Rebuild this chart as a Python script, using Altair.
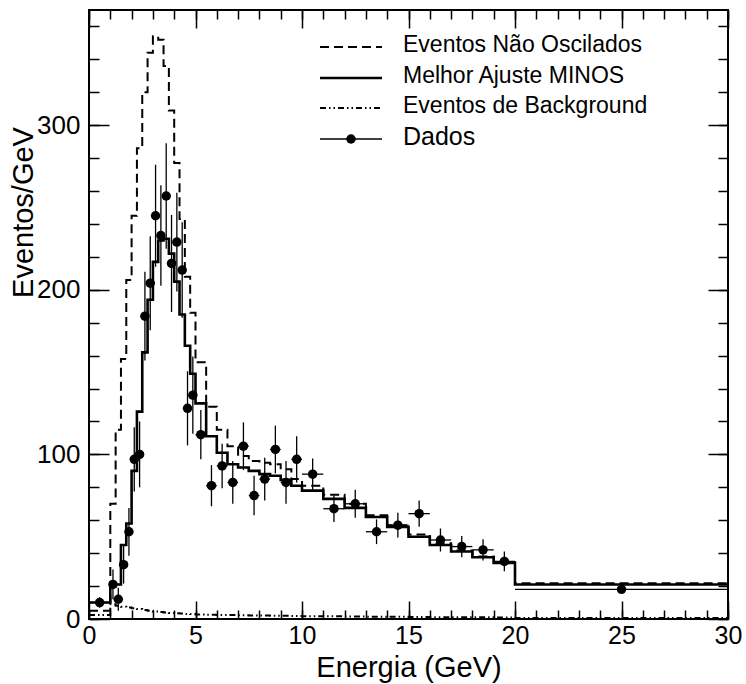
import altair as alt
import pandas as pd

# ---------------- data ----------------
edges = [0, 1, 1.25, 1.5, 1.75, 2, 2.25, 2.5, 2.75, 3, 3.25, 3.5, 3.75, 4, 4.25,
         4.5, 4.75, 5, 5.5, 6, 6.5, 7, 7.5, 8, 8.5, 9, 9.5, 10, 11, 12, 13, 14,
         15, 16, 17, 18, 19, 20, 30]

unosc = [5, 70, 115, 158, 206, 245, 286, 320, 344, 354, 352, 336, 309, 277, 243,
         208, 186, 156, 129, 115, 105, 99, 96, 95, 94, 91, 85, 81, 75.5, 70, 63,
         57, 51.4, 46, 41.6, 38, 34.5, 21.7]

bestfit = [10, 20, 21, 45, 58, 90, 126, 162, 194, 217, 230, 231, 222, 205, 185,
           166, 149, 131, 111, 101, 94, 92, 90, 88, 87, 84.5, 81, 78, 73, 67.5,
           62, 56, 50, 45, 41, 37.5, 34, 21]

background = [2.5, 9, 8, 7.5, 7, 6.5, 6, 5.5, 5, 4.6, 4.2, 4, 3.7, 3.5, 3.3, 3.1,
              3.0, 2.8, 2.6, 2.5, 2.4, 2.3, 2.2, 2.1, 2.0, 1.9, 1.8, 1.7, 1.6, 1.5,
              1.4, 1.3, 1.2, 1.1, 1.0, 1.0, 0.9, 0.6]

dados = [10, 21, 12, 33, 53, 97, 100, 184, 204, 245, 233, 257, 216, 229, 212, 128,
         136, 112, 81, 93, 83, 105, 75, 85, 103, 83, 97, 88, 67, 70, 53, 57, 64,
         48, 44, 42, 35, 18]

dados_err = [3.2, 9, 7, 11.5, 14.5, 19.5, 20, 27, 28.5, 31, 30.5, 32, 29.5, 30, 29,
             22.5, 23.5, 15, 12.5, 13.5, 13, 14.5, 12, 13, 14.5, 13, 14, 9.5, 8,
             8.5, 7.5, 7.5, 8, 7, 6.5, 6.5, 6, 1.3]

legend_labels = ["Eventos Não Oscilados", "Melhor Ajuste MINOS",
                 "Eventos de Background", "Dados"]

x_major = [0, 5, 10, 15, 20, 25, 30]
x_minor = list(range(0, 31))
y_major = [0, 100, 200, 300]
y_minor = list(range(0, 361, 20))

# ---------------- tables ----------------
def hist_df(vals):
    return pd.DataFrame({"E": edges, "v": list(vals) + [vals[-1]]})

lo = edges[:-1]
hi = edges[1:]
pts = pd.DataFrame({
    "E": [(a + b) / 2 for a, b in zip(lo, hi)],
    "lo": lo, "hi": hi,
    "v": dados,
    "vlo": [v - e for v, e in zip(dados, dados_err)],
    "vhi": [v + e for v, e in zip(dados, dados_err)],
})

FONT = "Liberation Sans, Arial, sans-serif"
W, H = 639, 609
xs = alt.Scale(domain=[0, 30], nice=False, zero=False)
ys = alt.Scale(domain=[0, 370], nice=False, zero=False)

def xaxis(orient, major, labels=False, title=None, **kw):
    size = 18 if major else 9
    return alt.Axis(orient=orient, offset=-size, tickSize=size,
                    values=x_major if major else x_minor, labels=labels,
                    title=title, labelFlush=False, labelOverlap=False, **kw)

def yaxis(orient, major, labels=False, title=None, **kw):
    size = 20 if major else 10
    return alt.Axis(orient=orient, offset=-size, tickSize=size,
                    values=y_major if major else y_minor, labels=labels,
                    title=title, labelFlush=False, labelOverlap=False, **kw)

bg = alt.Chart(hist_df(background)).mark_line(
    interpolate="step-after", color="black", strokeWidth=2,
    strokeDash=[6, 3, 1.5, 3, 1.5, 3]
).encode(
    x=alt.X("E:Q", scale=xs, axis=xaxis("bottom", True, labels=True,
            title="Energia (GeV)", labelPadding=4, labelFontSize=25,
            titleY=75, titleBaseline="alphabetic", titleFontSize=29)),
    y=alt.Y("v:Q", scale=ys, axis=yaxis("left", True, labels=True,
            title="Eventos/GeV", labelPadding=9, titleX=-86, titleY=202,
            titleAlign="center", titleBaseline="middle", titleAngle=270,
            titleFontSize=29)),
)

un = alt.Chart(hist_df(unosc)).mark_line(
    interpolate="step-after", color="black", strokeWidth=2, strokeDash=[9, 5]
).encode(
    x=alt.X("E:Q", scale=xs, axis=xaxis("bottom", False)),
    y=alt.Y("v:Q", scale=ys, axis=yaxis("left", False)),
)

bf = alt.Chart(hist_df(bestfit)).mark_line(
    interpolate="step-after", color="black", strokeWidth=2.6
).encode(
    x=alt.X("E:Q", scale=xs, axis=xaxis("top", True)),
    y=alt.Y("v:Q", scale=ys, axis=yaxis("right", True)),
)

herr = alt.Chart(pts).mark_rule(color="black", strokeWidth=1.3).encode(
    x=alt.X("lo:Q", scale=xs, axis=xaxis("top", False)),
    x2="hi:Q",
    y=alt.Y("v:Q", scale=ys, axis=yaxis("right", False)),
)

verr = alt.Chart(pts).mark_rule(color="black", strokeWidth=1.3).encode(
    x=alt.X("E:Q", scale=xs, axis=None),
    y=alt.Y("vlo:Q", scale=ys, axis=None),
    y2="vhi:Q",
)

dots = alt.Chart(pts).mark_circle(size=90, color="black", opacity=1).encode(
    x=alt.X("E:Q", scale=xs, axis=None),
    y=alt.Y("v:Q", scale=ys, axis=None),
)

# ---------------- legend ----------------
one = pd.DataFrame({"k": [0]})
lx1, lx2, ltx = 231, 293, 314
rows_y = [37, 68, 98, 129]
text_y = [35, 66, 96, 127]
legend_layers = [
    alt.Chart(one).mark_rule(color="black", strokeWidth=2, strokeDash=[9, 5]).encode(
        x=alt.value(lx1), x2=alt.value(lx2), y=alt.value(rows_y[0])),
    alt.Chart(one).mark_rule(color="black", strokeWidth=2.4).encode(
        x=alt.value(lx1), x2=alt.value(lx2), y=alt.value(rows_y[1])),
    alt.Chart(one).mark_rule(color="black", strokeWidth=1.8,
                             strokeDash=[6, 3, 1.5, 3, 1.5, 3]).encode(
        x=alt.value(lx1), x2=alt.value(lx2), y=alt.value(rows_y[2])),
    alt.Chart(one).mark_rule(color="black", strokeWidth=1.3).encode(
        x=alt.value(lx1), x2=alt.value(lx2), y=alt.value(rows_y[3])),
    alt.Chart(one).mark_circle(size=90, color="black", opacity=1).encode(
        x=alt.value((lx1 + lx2) / 2), y=alt.value(rows_y[3])),
]
for i, lab in enumerate(legend_labels):
    legend_layers.append(
        alt.Chart(pd.DataFrame({"t": [lab]})).mark_text(
            align="left", baseline="middle", font=FONT,
            fontSize=25 if i == 3 else 23, color="black"
        ).encode(text="t:N", x=alt.value(ltx), y=alt.value(text_y[i]))
    )

chart = alt.layer(bg, un, bf, herr, verr, dots, *legend_layers).resolve_axis(
    x="independent", y="independent"
).properties(
    width=W, height=H,
    padding={"left": 89, "top": 10, "right": 18, "bottom": 65},
    autosize=alt.AutoSizeParams(type="none"),
    background="white",
).configure_view(
    stroke="black", strokeWidth=2
).configure_axis(
    labelFont=FONT, titleFont=FONT, labelFontSize=26, titleFontSize=30,
    titleFontWeight="normal", labelColor="black", titleColor="black",
    tickColor="black", tickWidth=1.5, domain=False, grid=False,
)

chart.save("out.html", embed_options={"renderer": "svg", "actions": False})
